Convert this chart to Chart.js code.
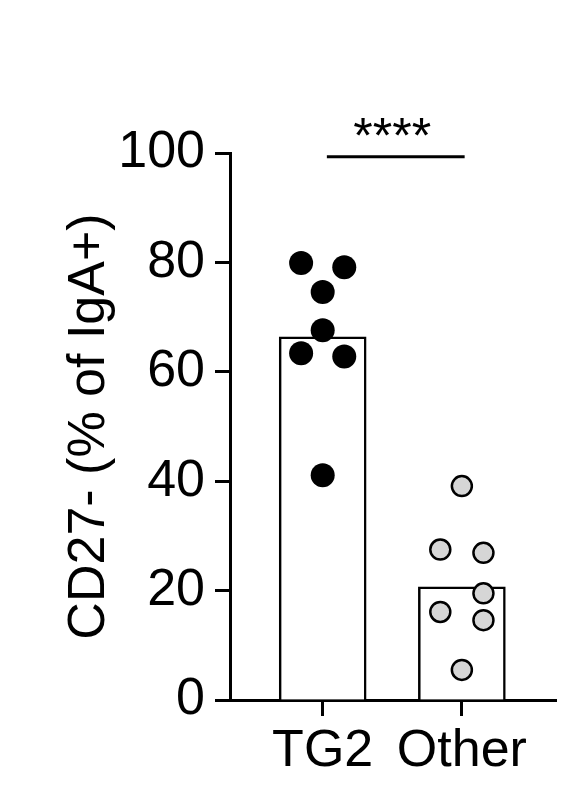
<!DOCTYPE html>
<html>
<head>
<meta charset="utf-8">
<script src="https://cdn.jsdelivr.net/npm/chart.js@4"></script>
<style>
  html, body { margin: 0; padding: 0; background: #fff; }
  #wrap { width: 569px; height: 806px; }
</style>
</head>
<body>
<div id="wrap"><canvas id="chart"></canvas></div>
<script>
// ── Data ──────────────────────────────────────────────────────────────────────
const categories  = ['TG2', 'Other'];
const barMeans    = [66.4, 20.7];
const tg2Values   = [79.9, 79.1, 74.6, 67.6, 63.4, 62.8, 41.1];
const otherValues = [39.1, 27.5, 26.9, 19.5, 16.1, 14.6, 5.5];
const yTicks      = [0, 20, 40, 60, 80, 100];
const sigLabel    = '****';
const sigLevel    = 99.3;

// horizontal spread of the dots inside each column (category units)
const tg2Jitter   = [-0.155, 0.155, 0, 0, -0.155, 0.155, 0];
const otherJitter = [0, -0.155, 0.155, 0.155, -0.155, 0.155, 0];

const FONT = 'Liberation Sans, Arial, sans-serif';

const toPoints = (vals, jit, cx) => vals.map((v, i) => ({ x: cx + jit[i], y: v }));

// ─── Significance stars ───────────────────────────────────────────────────────
const sigStars = {
  id: 'sigStars',
  afterDatasetsDraw(chart) {
    const { ctx, scales: { x, y } } = chart;
    ctx.save();
    ctx.font = `50px ${FONT}`;
    ctx.fillStyle = '#000';
    ctx.textAlign = 'center';
    ctx.textBaseline = 'alphabetic';
    ctx.fillText(sigLabel, x.getPixelForValue(1.5), y.getPixelForValue(sigLevel) - 4);
    ctx.restore();
  },
};

new Chart(document.getElementById('chart'), {
  type: 'bar',
  data: {
    datasets: [
      {
        type: 'scatter',
        data: toPoints(tg2Values, tg2Jitter, 1),
        backgroundColor: '#000',
        borderColor: '#000',
        borderWidth: 0,
        pointRadius: 12,
        order: 1,
      },
      {
        type: 'scatter',
        data: toPoints(otherValues, otherJitter, 2),
        backgroundColor: '#d6d6d6',
        borderColor: '#000',
        borderWidth: 2.5,
        pointRadius: 10,
        order: 1,
      },
      {
        type: 'line',
        data: [{ x: 1.03, y: sigLevel }, { x: 2.02, y: sigLevel }],
        borderColor: '#000',
        borderWidth: 3,
        pointRadius: 0,
        order: 0,
      },
      {
        type: 'bar',
        data: barMeans.map((v, i) => ({ x: i + 1, y: v })),
        backgroundColor: '#fff',
        borderColor: '#000',
        borderWidth: 2.5,
        barThickness: 87,
        order: 3,
      },
    ],
  },
  options: {
    responsive: true,
    maintainAspectRatio: false,
    animation: false,
    events: [],
    layout: { padding: { top: 153, left: 58, right: 12, bottom: 0 } },
    plugins: { legend: { display: false }, tooltip: { enabled: false } },
    scales: {
      x: {
        type: 'linear',
        min: 0.334,
        max: 2.68,
        offset: false,
        afterBuildTicks: s => { s.ticks = categories.map((_, i) => ({ value: i + 1 })); },
        afterFit: s => { s.height = 106; },
        ticks: {
          callback: v => categories[v - 1],
          font: { family: FONT, size: 52 },
          color: '#000',
          padding: 4,
          maxRotation: 0,
          autoSkip: false,
        },
        grid: { offset: false, drawOnChartArea: false, drawTicks: true, tickLength: 16, tickWidth: 3, tickColor: '#000' },
        border: { display: true, width: 3, color: '#000' },
      },
      y: {
        min: 0,
        max: 100,
        afterBuildTicks: s => { s.ticks = yTicks.map(v => ({ value: v })); },
        afterFit: s => { s.width = 172; },
        ticks: {
          font: { family: FONT, size: 52 },
          color: '#000',
          padding: 10,
        },
        title: {
          display: true,
          text: 'CD27- (% of IgA+)',
          font: { family: FONT, size: 52 },
          color: '#000',
          padding: 0,
        },
        grid: { drawOnChartArea: false, drawTicks: true, tickLength: 15, tickWidth: 3, tickColor: '#000' },
        border: { display: true, width: 3, color: '#000' },
      },
    },
  },
  plugins: [sigStars],
});
</script>
</body>
</html>
